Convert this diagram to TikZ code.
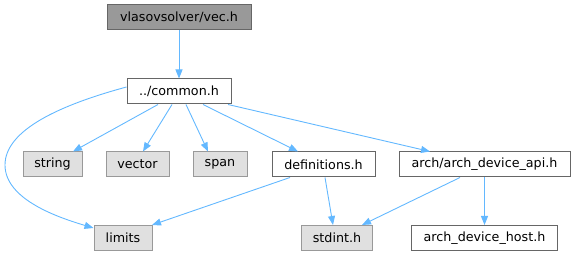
\documentclass[tikz,border=0pt]{standalone}
\usepackage{fontspec}
\setmainfont{DejaVu Sans}
\usetikzlibrary{arrows.meta}
\definecolor{edgec}{HTML}{63B8FF}
\definecolor{bordc}{HTML}{666666}
\definecolor{extbord}{HTML}{999999}
\definecolor{extfill}{HTML}{E0E0E0}
\definecolor{mainfill}{HTML}{999999}
\tikzset{
  filebox/.style={draw=bordc, line width=1pt, fill=white, minimum height=25pt, inner sep=0pt, font=\fontsize{12.7}{14}\selectfont},
  mainbox/.style={filebox, fill=mainfill},
  extbox/.style={filebox, draw=extbord, fill=extfill},
  dep/.style={draw=edgec, line width=0.9pt, -{Triangle[length=9pt,width=7pt]}},
}
\begin{document}
\begin{tikzpicture}[x=1pt,y=1pt]
\useasboundingbox (0,0) rectangle (575,256);
\node[mainbox, minimum width=144pt] (vec) at (179,238.5) {vlasovsolver/vec.h};
\node[filebox, minimum width=104pt] (common) at (179,164.5) {../common.h};
\node[extbox, minimum width=59pt] (string) at (52.5,91.5) {string};
\node[extbox, minimum width=63pt] (vector) at (137.5,91.5) {vector};
\node[extbox, minimum width=54pt] (span) at (220,91.5) {span};
\node[filebox, minimum width=103pt] (defs) at (323.5,91.5) {definitions.h};
\node[filebox, minimum width=171pt] (api) at (484.5,91.5) {arch/arch\_device\_api.h};
\node[extbox, minimum width=58pt] (limits) at (123,18) {limits};
\node[extbox, minimum width=71pt] (stdint) at (337,18) {stdint.h};
\node[filebox, minimum width=146pt] (host) at (484.5,18) {arch\_device\_host.h};

\draw[dep] (vec.south) -- (common.north);
\draw[dep] ([xshift=-21pt]common.south) -- ([xshift=20.5pt]string.north);
\draw[dep] ([xshift=-7pt]common.south) -- ([xshift=5.5pt]vector.north);
\draw[dep] ([xshift=7pt]common.south) -- ([xshift=-12pt]span.north);
\draw[dep] ([xshift=24pt]common.south) -- ([xshift=-25.5pt]defs.north);
\draw[dep] ([xshift=49pt]common.south) -- ([xshift=-54.5pt]api.north);
\draw[dep] ([yshift=4.5pt]common.west) .. controls (60,151) and (5,126) .. (5,91)
  .. controls (5,56) and (60,38) .. ([yshift=-3pt]limits.north west);
\draw[dep] ([xshift=-33.5pt]defs.south) -- ([xshift=29pt]limits.north);
\draw[dep] ([xshift=1.5pt]defs.south) -- ([xshift=-4pt]stdint.north);
\draw[dep] ([xshift=-24.5pt]api.south) -- ([xshift=25pt]stdint.north);
\draw[dep] (api.south) -- (host.north);
\end{tikzpicture}
\end{document}
